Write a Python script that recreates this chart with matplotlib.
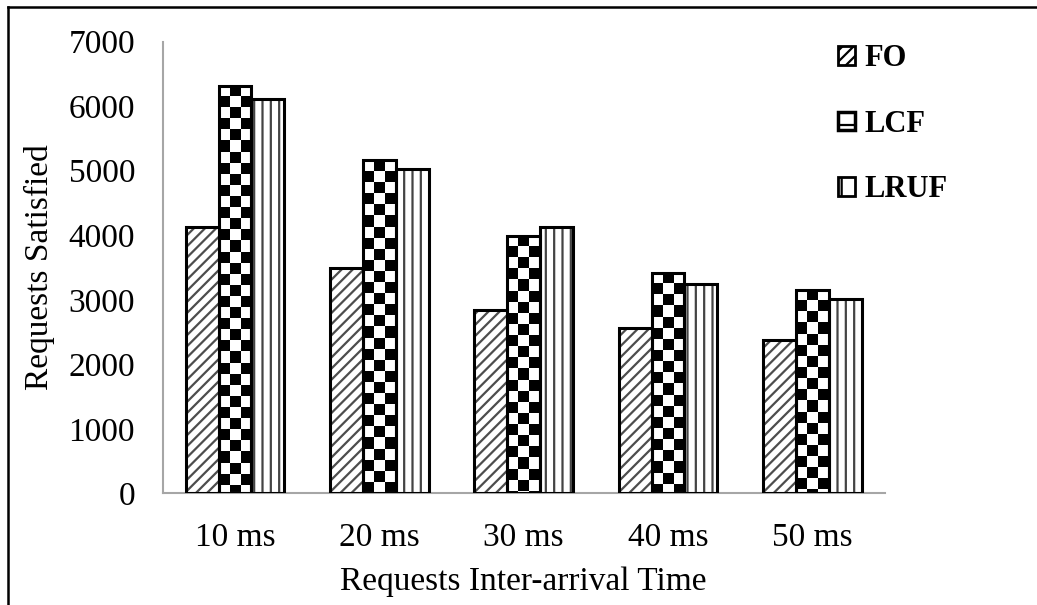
import numpy as np
import matplotlib
matplotlib.use("Agg")
import matplotlib.pyplot as plt
from matplotlib.patches import Patch
from matplotlib.lines import Line2D

categories = ["10 ms", "20 ms", "30 ms", "40 ms", "50 ms"]
series_names = ["FO", "LCF", "LRUF"]
fo = [4120, 3500, 2840, 2560, 2380]
lcf = [6320, 5160, 3990, 3410, 3150]
lruf = [6110, 5030, 4120, 3240, 3010]
yticks = [0, 1000, 2000, 3000, 4000, 5000, 6000, 7000]

plt.rcParams["font.family"] = ["Liberation Serif", "DejaVu Serif"]
plt.rcParams["hatch.linewidth"] = 1.6

fig = plt.figure(figsize=(10.37, 6.05), dpi=100)
ax = fig.add_axes([0.157, 0.1846, 0.696, 0.7465])

x = np.arange(len(categories))
bw = 0.228
offsets = [-bw, 0, bw]
spine_grey = "#a6a6a6"

# FO: dense diagonal hatch
ax.bar(x + offsets[0], fo, bw, facecolor="white", edgecolor="#4d4d4d",
       hatch="///", linewidth=0, zorder=2)
ax.bar(x + offsets[0], fo, bw, facecolor="none", edgecolor="black",
       linewidth=2.2, zorder=3)

# LCF: checkerboard fill clipped to each bar
lcf_bars = ax.bar(x + offsets[1], lcf, bw, facecolor="none", edgecolor="black",
                  linewidth=2.2, zorder=3)
cell_h = 172.0
for rect in lcf_bars:
    x0, w, h = rect.get_x(), rect.get_width(), rect.get_height()
    nrows = int(np.ceil(h / cell_h))
    board = np.add.outer(np.arange(nrows), np.arange(3)) % 2
    im = ax.imshow(board, extent=(x0, x0 + w, h - nrows * cell_h, h), origin="upper",
                   cmap="gray_r", interpolation="nearest", aspect="auto", zorder=2)
    im.set_clip_path(rect)

# LRUF: vertical line hatch
ax.bar(x + offsets[2], lruf, bw, facecolor="white", edgecolor="#444444",
       hatch="||", linewidth=0, zorder=2)
ax.bar(x + offsets[2], lruf, bw, facecolor="none", edgecolor="black",
       linewidth=2.2, zorder=3)

ax.set_xlim(-0.5, len(categories) - 0.5)
ax.set_ylim(0, 7000)
ax.set_aspect("auto")
ax.set_yticks(yticks)
ax.set_xticks(x)
ax.set_xticklabels(categories)
ax.tick_params(axis="both", length=0, labelsize=24)
ax.tick_params(axis="y", pad=20)
ax.tick_params(axis="x", pad=21)
for s in ["top", "right"]:
    ax.spines[s].set_visible(False)
for s in ["left", "bottom"]:
    ax.spines[s].set_color(spine_grey)
    ax.spines[s].set_linewidth(1.5)

ax.set_xlabel("Requests Inter-arrival Time", fontsize=24, labelpad=10)
ax.set_ylabel("Requests Satisfied", fontsize=24, labelpad=10)

handles = [
    Patch(facecolor="white", edgecolor="black", hatch="///", linewidth=2),
    Patch(facecolor="white", edgecolor="black", hatch="-", linewidth=2.5),
    Patch(facecolor="white", edgecolor="black", hatch="|", linewidth=2),
]
leg = fig.legend(handles, series_names, loc="upper left",
                 bbox_to_anchor=(838 / 1037, 1 - 44 / 605),
                 frameon=False, borderpad=0, borderaxespad=0,
                 handlelength=0.56, handleheight=0.56, handletextpad=0.3,
                 labelspacing=1.2, prop={"size": 22, "weight": "bold"})

# outer frame
fig.add_artist(Line2D([8 / 1037, 8 / 1037], [0, 1 - 7 / 605], color="black",
                      linewidth=1.8, transform=fig.transFigure))
fig.add_artist(Line2D([8 / 1037, 1], [1 - 7 / 605, 1 - 7 / 605], color="black",
                      linewidth=1.8, transform=fig.transFigure))

fig.savefig("out.png", dpi=100)
